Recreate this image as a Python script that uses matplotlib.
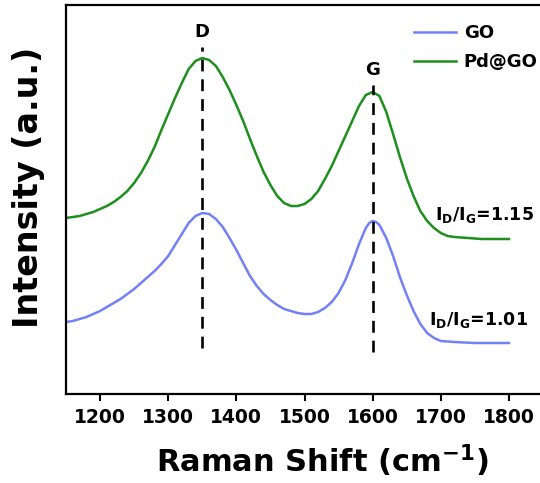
import numpy as np
import matplotlib
matplotlib.use('Agg')
import matplotlib.pyplot as plt

plt.rcParams['font.family'] = 'DejaVu Sans'
plt.rcParams['font.weight'] = 'bold'
plt.rcParams['mathtext.fontset'] = 'custom'
plt.rcParams['mathtext.rm'] = 'DejaVu Sans:bold'
plt.rcParams['mathtext.bf'] = 'DejaVu Sans:bold'

# Raman spectra (intensity in arbitrary units)
go_shift = [1150, 1160, 1170, 1180, 1190, 1200, 1210, 1220, 1230, 1240, 1250, 1260,
            1270, 1280, 1290, 1300, 1310, 1320, 1330, 1340, 1350, 1360, 1370, 1380,
            1390, 1400, 1410, 1420, 1430, 1440, 1450, 1460, 1470, 1480, 1490, 1500,
            1510, 1520, 1530, 1540, 1550, 1560, 1570, 1580, 1590, 1595, 1600, 1605,
            1610, 1620, 1630, 1640, 1650, 1660, 1670, 1680, 1690, 1700, 1720, 1750,
            1800]
go_int = [72, 73, 75, 77, 80, 83, 87, 91, 95, 100, 105, 111,
          117, 123, 130, 138, 149, 160, 171, 178, 181, 180, 175, 167,
          156, 144, 131, 118, 108, 100, 94, 89, 85, 83, 81, 80,
          80, 82, 86, 92, 101, 114, 131, 150, 166, 171, 173, 172,
          169, 156, 138, 117, 99, 83, 70, 61, 56, 53, 52, 51,
          51]

pd_shift = [1150, 1160, 1170, 1180, 1190, 1200, 1210, 1220, 1230, 1240, 1250, 1260,
            1270, 1280, 1290, 1300, 1310, 1320, 1330, 1340, 1350, 1360, 1370, 1380,
            1390, 1400, 1410, 1420, 1430, 1440, 1450, 1460, 1470, 1480, 1490, 1500,
            1510, 1520, 1530, 1540, 1550, 1560, 1570, 1580, 1590, 1600, 1610, 1620,
            1630, 1640, 1650, 1660, 1670, 1680, 1690, 1700, 1710, 1720, 1740, 1760,
            1800]
pd_int = [176, 177, 178, 180, 182, 185, 188, 192, 197, 203, 211, 221,
          233, 247, 264, 280, 296, 311, 325, 333, 336, 334, 328, 317,
          304, 289, 273, 255, 238, 222, 209, 198, 191, 188, 188, 190,
          195, 203, 215, 228, 243, 258, 273, 288, 299, 302, 298, 282,
          260, 237, 216, 198, 183, 173, 166, 161, 158, 157, 156, 155,
          155]

d_band = 1350
g_band = 1600
ratio_labels = [r'I$_{\mathrm{D}}$/I$_{\mathrm{G}}$=1.15', r'I$_{\mathrm{D}}$/I$_{\mathrm{G}}$=1.01']
xticks = [1200, 1300, 1400, 1500, 1600, 1700, 1800]

blue = '#7381f6'
green = '#1d8f1d'

fig = plt.figure(figsize=(5.4, 4.83), dpi=100)
ax = fig.add_axes([66 / 540, 89 / 483, 477 / 540, 389 / 483])

ax.plot(go_shift, go_int, color=blue, lw=1.8, label='GO')
ax.plot(pd_shift, pd_int, color=green, lw=1.8, label='Pd@GO')

# band markers
ax.plot([d_band, d_band], [46, 347], color='black', lw=1.9, linestyle=(0, (4.5, 3)))
ax.plot([g_band, g_band], [42, 309], color='black', lw=1.9, linestyle=(0, (4.5, 3)))
ax.text(d_band, 362, 'D', ha='center', va='center', fontsize=13, fontweight='bold')
ax.text(g_band, 324, 'G', ha='center', va='center', fontsize=13, fontweight='bold')

ax.text(1691, 179, ratio_labels[0], ha='left', va='center', fontsize=12.5, fontweight='bold')
ax.text(1682, 74, ratio_labels[1], ha='left', va='center', fontsize=12.5, fontweight='bold')

ax.set_xlim(1150, 1850)
ax.set_ylim(0, 389)
ax.spines['right'].set_visible(False)
ax.set_xticks(xticks)
ax.set_yticks([])
ax.tick_params(axis='x', direction='out', length=5, width=1.5, labelsize=13.5, pad=5)
for lbl in ax.get_xticklabels():
    lbl.set_fontweight('bold')
for sp in ax.spines.values():
    sp.set_linewidth(1.6)

ax.set_xlabel(r'Raman Shift (cm$^{\mathrm{-1}}$)', fontsize=22, fontweight='bold')
ax.xaxis.set_label_coords(0.537, -0.125)
ax.set_ylabel('Intensity (a.u.)', fontsize=24, fontweight='bold')
ax.yaxis.set_label_coords(-0.045, 0.532)

ax.legend(loc='upper left', bbox_to_anchor=(405 / 540, 1 - 15 / 483),
          bbox_transform=fig.transFigure, frameon=False,
          handlelength=2.3, handletextpad=0.45, labelspacing=0.6, borderpad=0,
          prop={'weight': 'bold', 'size': 13})

fig.savefig('out.png', dpi=100)
